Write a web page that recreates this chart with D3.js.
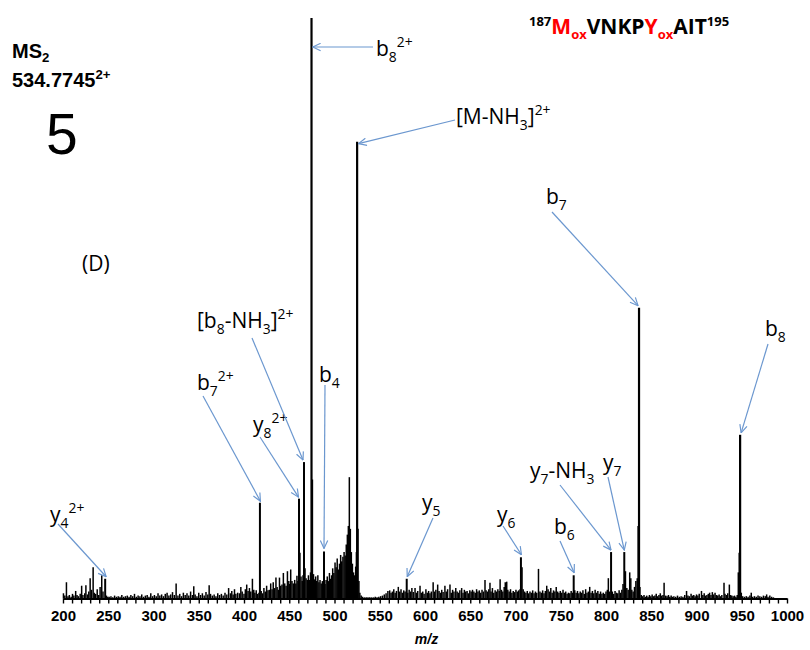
<!DOCTYPE html>
<html>
<head>
<meta charset="utf-8">
<script src="https://cdn.jsdelivr.net/npm/d3@7/dist/d3.min.js"></script>
<style>
  html, body { margin: 0; padding: 0; background: #fff; }
  svg { display: block; }
</style>
</head>
<body>
<svg id="chart" width="810" height="650"></svg>
<script>
// ---------------- DATA ----------------
const tickLabels = [200, 250, 300, 350, 400, 450, 500, 550, 600, 650, 700, 750, 800, 850, 900, 950, 1000];

const ionLabels = ["y_4^2+", "b_7^2+", "y_8^2+", "[b_8-NH_3]^2+", "b_8^2+", "b_4", "[M-NH_3]^2+",
                   "y_5", "y_6", "b_6", "y_7-NH_3", "y_7", "b_7", "b_8"];
const ionMz = [246.6, 417.6, 460.8, 466.3, 474.6, 488.4, 525.0, 579.8, 706.0, 764.3, 805.6, 820.2, 836.5, 948.2];
const ionIntensity = [3.4, 16.5, 17.2, 23.5, 100, 8.1, 78.7, 3.4, 7.1, 4.0, 8.0, 8.0, 50.1, 28.2];

// unlabeled peaks / noise  [m/z, relative intensity %]
const noisePeaks = [
  [200.5,0.9],[202,0.5],[203.8,2.8],[205.5,0.4],[207,0.6],[209,0.3],[210.5,0.8],[212,0.5],[214,1.3],[215.5,0.6],
  [217,0.4],[219,0.8],[220.6,2.2],[222,0.6],[224,0.9],[225.3,2.3],[227,0.7],[228.5,1.2],[230,3.5],[231.5,1.5],
  [233.3,5.4],[234.5,1.0],[236,0.8],[237.8,1.6],[239.5,0.6],[241,2.0],[242.8,4.0],[244.2,1.2],[248,0.5],[249.5,0.3],
  [251,0.3],[253,0.4],[255,0.2],[257,0.5],[259,0.3],[261,0.4],[263,0.3],[265,0.6],[267,0.3],[269,0.4],
  [271,0.5],[273,0.3],[275,0.6],[277,0.4],[279,0.8],[281,0.3],[283,0.5],[285,0.4],[287,0.7],[289,0.3],
  [291,0.5],[293,0.6],[295,0.3],[297,0.9],[299,0.4],[301,0.6],[303,0.4],[305,0.9],[307,0.5],[309,0.7],
  [311,0.4],[313,0.8],[315,1.0],[317,0.5],[319,0.7],[321,1.1],[323,0.6],[325,2.6],[327,0.5],[329,0.8],
  [331,0.4],[333,1.0],[335,0.6],[337,0.9],[339,0.5],[341,1.2],[343,0.6],[344.5,2.1],[346,0.7],[348,0.4],
  [350,1.0],[352,0.6],[354,0.9],[356,0.5],[358,1.1],[360,0.7],[361.5,2.3],[363,0.8],[365,0.5],[367,0.7],
  [369,0.4],[371,0.9],[373,0.6],[375,0.8],[377,0.5],[379,1.0],[381,0.7],[383,1.8],[385,0.9],[386.5,1.3],
  [388,0.7],[389.5,1.6],[391,0.8],[393,1.0],[395,0.9],[396.5,2.0],[398,1.2],[400,0.8],[401.5,1.6],[403,2.4],
  [404.5,1.3],[406,1.8],[407.5,1.2],[409.3,3.4],[410.8,1.5],[412,1.0],[413.5,1.4],[415,0.8],[416.5,1.0],[419,1.3],
  [420.5,0.9],[422,1.8],[423.5,1.2],[425,2.2],[426.5,1.4],[428,1.5],[429.5,2.6],[431,1.6],[432.3,2.8],[433.8,1.8],
  [435.3,3.6],[436.6,2.0],[438,1.5],[439.2,3.6],[440.5,2.2],[442,2.4],[443.5,4.4],[445,2.6],[446.5,2.2],[448,4.7],
  [449.5,3.0],[450.5,2.5],[451.6,5.0],[453,3.0],[454.5,2.6],[456,3.2],[457.3,2.6],[458.5,3.9],[459.6,3.0],[461.8,7.9],
  [463,3.8],[464.3,3.0],[465.2,4.0],[467.4,5.2],[468.6,3.5],[470,3.2],[471.2,4.0],[472.5,3.2],[473.5,4.5],[475.6,20.5],
  [476.8,4.2],[478,3.3],[479.2,3.8],[480.4,3.0],[481.6,4.0],[482.8,2.8],[484,3.2],[485.3,2.6],[486.6,3.0],[487.5,2.4],
  [489.5,2.5],[490.7,3.2],[492,3.8],[493.2,3.0],[494.4,4.4],[495.6,3.4],[496.8,4.0],[498,5.2],[499.3,4.4],[500.6,6.2],
  [501.8,5.4],[503,6.9],[504.2,5.0],[505.5,6.0],[506.8,7.5],[508,6.4],[509.3,7.2],[510.6,8.0],[511.8,7.4],[513,9.3],
  [514.2,11.0],[515.3,12.5],[516.4,20.9],[517.5,12.0],[518.6,8.0],[519.8,6.0],[521,4.5],[522.2,4.0],[523.4,5.5],[524.2,8.0],
  [526,12.0],[527,3.0],[528,1.0],[529.5,0.5],[531,0.3],[533,0.2],[535,0.2],[537,0.2],[539,0.2],[541,0.2],
  [543,0.2],[545,0.3],[547,0.2],[549,0.3],[551,0.4],[553,0.5],[555,0.7],[557,0.9],[559,1.3],[561,1.4],
  [562.5,1.0],[564,1.2],[565.5,1.6],[567,1.0],[568.5,1.3],[570.5,2.0],[572,1.2],[573.5,1.6],[575,1.0],[576.5,1.4],
  [578,1.2],[581,1.0],[582.5,1.5],[584,1.2],[585.5,1.8],[587,1.1],[589,1.8],[590.5,1.0],[592,1.3],[594.5,2.2],
  [596,1.0],[597.5,1.2],[599,0.8],[601,1.6],[602.5,1.0],[604,1.3],[605.5,0.9],[607,1.2],[609,2.8],[610.5,1.2],
  [612,1.5],[614,2.4],[615.5,1.3],[617,1.0],[618.5,1.5],[620,1.1],[622,2.2],[623.5,1.2],[625,1.6],[627.6,2.4],
  [629,1.0],[630.5,1.5],[632,1.2],[634,1.8],[635.5,1.2],[637,1.0],[638.5,1.4],[640.5,1.8],[642,1.0],[643.5,1.5],
  [645,1.2],[646.5,1.3],[648,0.9],[649.5,1.4],[651,1.2],[652.5,1.5],[654,1.2],[655.5,1.0],[657,1.6],[658.5,1.2],
  [660,1.4],[661.5,1.0],[663,1.5],[664.5,1.2],[666.3,3.2],[667.5,1.4],[669,1.2],[670.5,1.6],[671.8,2.7],[673,1.2],
  [674.5,1.8],[676,1.0],[677.5,1.4],[679,1.2],[680.5,1.6],[682,1.3],[683,3.3],[684.5,1.5],[686,1.2],[687.5,2.0],
  [688.7,2.8],[690.3,2.9],[691.5,1.5],[693,1.2],[694.5,1.6],[696,1.0],[697.5,1.3],[699,1.1],[700.5,1.5],[702,1.2],
  [703.5,1.4],[705,1.6],[707.2,5.4],[708.5,1.6],[710,1.2],[711.5,1.0],[713,1.3],[714.5,0.9],[716,1.2],[717.5,1.0],
  [719,1.4],[720.5,0.9],[722,1.2],[723.5,1.0],[725.4,5.1],[727,1.2],[728.5,1.0],[730,1.4],[731.5,0.9],[733,1.3],
  [734.5,2.2],[736,1.6],[737.5,1.2],[739,1.8],[740.5,1.0],[742,1.4],[743.5,1.2],[745,2.0],[746.5,1.2],[748,1.0],
  [749.5,1.3],[751,1.0],[752.5,1.5],[754,1.0],[755.5,1.2],[757,0.8],[758.5,1.0],[760,0.9],[761.5,1.3],[763,1.0],
  [765.5,1.4],[767,1.0],[768.5,1.3],[770,0.9],[771.5,1.2],[773,1.0],[774.5,1.4],[776,0.8],[777.5,1.6],[779,1.0],
  [780.5,1.2],[782,2.0],[783.5,1.0],[785,1.3],[786.5,0.9],[788,1.5],[789.5,1.0],[791,1.3],[792.5,0.8],[794,1.2],
  [795.5,0.8],[797,1.0],[798.5,0.8],[800,1.2],[801.5,1.5],[802.6,3.5],[804,1.2],[807,1.2],[808.5,0.8],[810,1.3],
  [811.5,1.0],[813,0.9],[814.5,1.4],[816,1.0],[817.5,1.5],[818.8,2.5],[821.5,4.7],[823,1.8],[824.5,1.5],[826.2,4.5],
  [827.4,3.5],[828.5,1.5],[830,1.2],[831.5,2.0],[833,3.0],[834.5,3.5],[835.5,12.5],[837.5,2.0],[839,0.6],[840.5,0.4],
  [842,0.6],[843.5,0.3],[845,0.5],[846.5,0.3],[848,0.6],[849.5,0.4],[851,0.7],[852.5,0.4],[854,0.5],[855.5,0.8],
  [857,0.4],[858.5,0.6],[860,0.9],[861.5,0.5],[863,0.6],[864.2,2.7],[866,0.5],[867.5,0.4],[869,0.6],[870.5,0.3],
  [872,0.5],[873.5,0.3],[875,0.4],[877,0.3],[879,0.5],[881,0.3],[883,0.4],[885,0.3],[887,0.6],[889,1.3],
  [890.5,0.5],[892,0.4],[894,0.8],[895.5,0.5],[897,0.6],[898.5,0.4],[900,0.7],[901.5,0.5],[903,0.8],[905.5,1.3],
  [907,0.6],[908.5,0.9],[910,0.5],[911.5,0.6],[913,0.8],[914.5,1.0],[916,0.6],[917.5,1.1],[919,0.7],[920.5,1.0],
  [922,0.6],[923.5,0.5],[925,0.7],[926.5,0.4],[928,0.6],[930.4,2.7],[931.5,0.8],[933,0.6],[934.5,0.9],[936.3,2.4],
  [937.5,0.6],[939,0.5],[940.5,0.4],[942,0.5],[943.5,0.3],[945,0.6],[946.2,4.5],[947.2,7.9],[949.5,1.0],[951,0.4],
  [953,0.3],[955,0.4],[957,0.3],[959,0.5],[960.5,1.0],[962,0.3],[964,0.4],[966,0.3],[968,0.5],[970,0.4],
  [972,0.3],[974,0.5],[976,0.4],[977.5,0.7],[979,0.3],[981,0.5],[983,0.3],[985,0.2]
];

// ---------------- DRAWING ----------------
const svg = d3.select("#chart");

const x = d3.scaleLinear().domain([200, 1000]).range([63, 787]);
const y = d3.scaleLinear().domain([0, 100]).range([598.5, 18]);

const ARROW = "#6b97cf";
const annFont = "'Open Sans', 'Noto Sans', sans-serif";
const sansFont = "'Liberation Sans', Arial, sans-serif";

// arrow marker (open V head)
svg.append("defs").append("marker")
  .attr("id", "ah")
  .attr("viewBox", "0 0 10 10")
  .attr("refX", 9.4).attr("refY", 5)
  .attr("markerWidth", 9).attr("markerHeight", 9)
  .attr("markerUnits", "userSpaceOnUse")
  .attr("orient", "auto")
  .append("path")
  .attr("d", "M0.6,0.9 L9.4,5 L0.6,9.1")
  .attr("fill", "none").attr("stroke", ARROW).attr("stroke-width", 1.3);

// noise peaks
svg.append("g").selectAll("line").data(noisePeaks).join("line")
  .attr("x1", d => x(d[0])).attr("x2", d => x(d[0]))
  .attr("y1", y(0)).attr("y2", d => y(d[1]))
  .attr("stroke", "#000").attr("stroke-width", 1.5);

// labelled peaks
const ions = ionMz.map((m, i) => ({ mz: m, int: ionIntensity[i], label: ionLabels[i] }));
svg.append("g").selectAll("line").data(ions).join("line")
  .attr("x1", d => x(d.mz)).attr("x2", d => x(d.mz))
  .attr("y1", y(0)).attr("y2", d => y(d.int))
  .attr("stroke", "#000").attr("stroke-width", d => d.int > 25 ? 2.2 : 2);

// x axis
const axis = d3.axisBottom(x)
  .tickValues(d3.range(200, 1001, 10))
  .tickSize(5).tickSizeOuter(0)
  .tickFormat(d => tickLabels.includes(d) ? d : "");
const gx = svg.append("g").attr("transform", `translate(0,${y(0)})`).call(axis);
gx.select(".domain").attr("stroke", "#000").attr("stroke-width", 2.2);
gx.selectAll(".tick line").attr("stroke", "#000").attr("stroke-width", 1.4);
gx.selectAll(".tick text")
  .attr("y", 22.5).attr("dy", 0)
  .attr("fill", "#000")
  .style("font-family", sansFont)
  .style("font-weight", "bold").style("font-size", "15px");

svg.append("text").attr("x", 426.5).attr("y", 644)
  .attr("text-anchor", "middle")
  .style("font-family", sansFont)
  .style("font-weight", "bold").style("font-style", "italic").style("font-size", "14px")
  .text("m/z");

// rich text helper: "_c" = subscript char, "^..." = superscript rest
function richText(g, str, px, py, size, opts = {}) {
  const t = g.append("text").attr("x", px).attr("y", py)
    .style("font-family", opts.family || annFont)
    .style("font-size", size + "px")
    .style("font-weight", opts.weight || "normal")
    .attr("fill", opts.fill || "#000");
  const segs = [];
  let i = 0, buf = "";
  while (i < str.length) {
    const c = str[i];
    if (c === "_") { if (buf) segs.push([buf, "n"]); buf = ""; segs.push([str[i + 1], "s"]); i += 2; }
    else if (c === "^") { if (buf) segs.push([buf, "n"]); buf = ""; segs.push([str.slice(i + 1), "S"]); i = str.length; }
    else { buf += c; i++; }
  }
  if (buf) segs.push([buf, "n"]);
  const subK = opts.sub || 0.3, supK = opts.sup || 0.42;
  let shift = 0;
  segs.forEach(([txt, kind]) => {
    const target = kind === "s" ? size * subK : kind === "S" ? -size * supK : 0;
    t.append("tspan").attr("dy", target - shift)
      .style("font-size", (kind === "n" ? size : size * 0.66) + "px")
      .text(txt);
    shift = target;
  });
  return t;
}

// annotation layout (pixel): text x, text baseline y, arrow start x, y, tip offset dx, dy from peak top
const labelLayout = [
  [50, 522, 58, 524, 1, -2],
  [197, 390, 203, 396, 0.5, -1.5],
  [253, 432, 260, 437, -0.5, -1.5],
  [197, 328, 252, 338, -1, -2],
  [376, 56, 373, 47, 1.2, 29],
  [319, 382, 325, 385, 0, -3],
  [456, 124, 455, 120, 1.4, 2],
  [422, 510, 433, 518, 0.5, -2],
  [497, 522, 503, 526, 0.5, -2.5],
  [554, 534, 560, 541, 0.5, -2.5],
  [530, 478, 560, 485, 0, -2],
  [603, 470, 608, 477, 0, -2],
  [546, 204, 552, 212, -1, -2],
  [765, 336, 768, 344, 1, -2]
];

const ann = svg.append("g");
ions.forEach((d, i) => {
  const [tx, ty, sx, sy, dx, dy] = labelLayout[i];
  ann.append("line")
    .attr("x1", sx).attr("y1", sy)
    .attr("x2", x(d.mz) + dx).attr("y2", y(d.int) + dy)
    .attr("stroke", ARROW).attr("stroke-width", 1.2)
    .attr("marker-end", "url(#ah)");
  richText(ann, d.label, tx, ty, 21);
});

// (D)
svg.append("text").attr("x", 82).attr("y", 271)
  .style("font-family", annFont).style("font-size", "21px").text("(D)");

// MS2 / precursor
richText(svg, "MS_2", 12, 58, 20, { weight: "bold", family: sansFont, sub: 0.22 });
richText(svg, "534.7745^2+", 12, 87, 20, { weight: "bold", family: sansFont, sup: 0.38 });

// panel number
svg.append("text").attr("x", 46).attr("y", 154)
  .style("font-family", sansFont)
  .style("font-size", "57px").text("5");

// peptide title
const titleParts = [
  ["187", "S", "#000"], ["M", "n", "#ff0000"], ["ox", "s", "#ff0000"], ["VNKP", "n", "#000"],
  ["Y", "n", "#ff0000"], ["ox", "s", "#ff0000"], ["AIT", "n", "#000"], ["195", "S", "#000"]
];
const title = svg.append("text").attr("x", 529).attr("y", 34)
  .style("font-family", annFont).style("font-weight", "bold").style("font-size", "21px");
let tshift = 0;
titleParts.forEach(([txt, kind, col]) => {
  const target = kind === "s" ? 5 : kind === "S" ? -8 : 0;
  title.append("tspan").attr("dy", target - tshift).attr("fill", col)
    .style("font-size", (kind === "n" ? 21 : 13) + "px").text(txt);
  tshift = target;
});
</script>
</body>
</html>
